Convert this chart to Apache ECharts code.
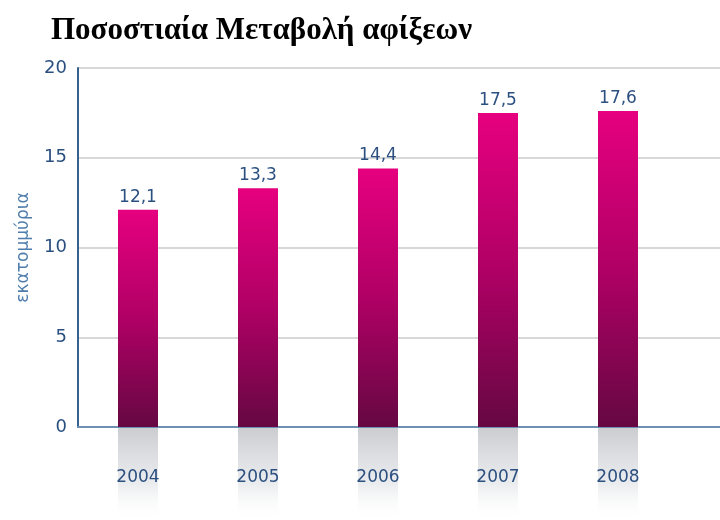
<!DOCTYPE html>
<html>
<head>
<meta charset="utf-8">
<script src="https://cdn.jsdelivr.net/npm/echarts@6/dist/echarts.min.js"></script>
<style>
  html, body { margin: 0; padding: 0; background: #fff; }
  #chart { width: 720px; height: 520px; }
</style>
</head>
<body>
<div id="chart"></div>
<script>
const years = ['2004', '2005', '2006', '2007', '2008']
const arrivals = [12.1, 13.3, 14.4, 17.5, 17.6]
const yTicks = [0, 5, 10, 15, 20]

const labelColor = '#2b5080'
const chart = echarts.init(document.getElementById('chart'))

chart.setOption({
  backgroundColor: '#fff',
  animation: false,
  title: {
    text: 'Ποσοστιαία Μεταβολή αφίξεων',
    left: 46,
    top: 10,
    textStyle: {
      fontFamily: 'Liberation Serif',
      fontWeight: 'bold',
      fontSize: 31,
      color: '#000',
    },
  },
  grid: [
    {left: 78, right: 42, top: 68, height: 359},
    {left: 78, right: 0, top: 68, height: 359},
  ],
  xAxis: [{
    type: 'category',
    gridIndex: 0,
    data: years,
    z: 5,
    axisLine: {show: false},
    axisTick: {show: false},
    axisLabel: {
      margin: 42,
      fontFamily: 'DejaVu Sans',
      fontSize: 17,
      color: labelColor,
    },
  }, {
    type: 'value',
    gridIndex: 1,
    min: 0,
    max: 1,
    axisLine: {show: true, onZero: false, lineStyle: {color: '#6f8fb3', width: 2}},
    axisTick: {show: false},
    axisLabel: {show: false},
    splitLine: {show: false},
  }],
  yAxis: [{
    type: 'value',
    gridIndex: 0,
    min: yTicks[0],
    max: yTicks[yTicks.length - 1],
    interval: 5,
    name: 'εκατομμύρια',
    nameLocation: 'middle',
    nameRotate: 90,
    nameGap: 46,
    nameTextStyle: {
      fontFamily: 'DejaVu Sans',
      fontSize: 17,
      color: '#4f7eac',
    },
    axisLine: {show: true, lineStyle: {color: '#35608f', width: 2}},
    axisTick: {show: false},
    axisLabel: {
      margin: 11,
      fontFamily: 'DejaVu Sans',
      fontSize: 18,
      color: labelColor,
    },
    splitLine: {show: false},
  }, {
    type: 'value',
    gridIndex: 1,
    min: yTicks[0],
    max: yTicks[yTicks.length - 1],
    interval: 5,
    axisLine: {show: false},
    axisTick: {show: false},
    axisLabel: {show: false},
    splitLine: {
      show: true,
      lineStyle: {color: '#d8d8d8', width: 2},
    },
  }],
  series: [{
    // reflection under the axis
    type: 'custom',
    xAxisIndex: 0,
    yAxisIndex: 0,
    z: 1,
    silent: true,
    data: arrivals.map((v, i) => [i, v]),
    renderItem: (params, api) => {
      const p = api.coord([api.value(0), 0])
      const w = api.size([1, 0])[0] / 3
      return {
        type: 'rect',
        shape: {x: p[0] - w / 2, y: p[1] + 1, width: w, height: 93},
        style: {
          fill: new echarts.graphic.LinearGradient(0, 0, 0, 1, [
            {offset: 0, color: 'rgba(190, 192, 196, 0.8)'},
            {offset: 0.6, color: 'rgba(215, 217, 222, 0.5)'},
            {offset: 1, color: 'rgba(255, 255, 255, 0)'},
          ]),
        },
      }
    },
  }, {
    name: 'arrivals',
    type: 'bar',
    xAxisIndex: 0,
    yAxisIndex: 0,
    z: 3,
    barWidth: 40,
    data: arrivals,
    itemStyle: {
      color: new echarts.graphic.LinearGradient(0, 0, 0, 1, [
        {offset: 0, color: '#e6007f'},
        {offset: 0.5, color: '#b00065'},
        {offset: 1, color: '#650842'},
      ]),
    },
    label: {
      show: true,
      position: 'top',
      distance: 4,
      fontFamily: 'DejaVu Sans',
      fontSize: 17,
      color: labelColor,
      formatter: (p) => String(p.value).replace('.', ','),
    },
  }],
})
</script>
</body>
</html>
